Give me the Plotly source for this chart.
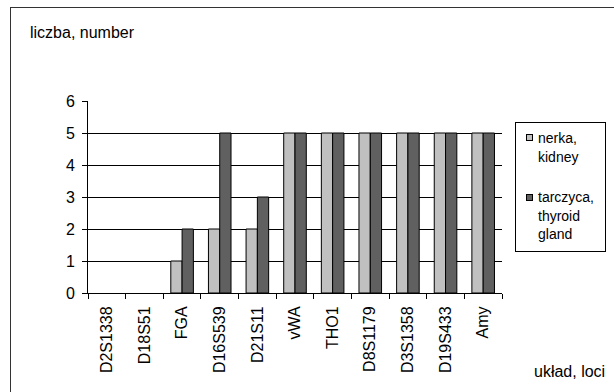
import plotly.graph_objects as go

loci = ["D2S1338", "D18S51", "FGA", "D16S539", "D21S11", "vWA",
        "THO1", "D8S1179", "D3S1358", "D19S433", "Amy"]
kidney = [0, 0, 1, 2, 2, 5, 5, 5, 5, 5, 5]
thyroid = [0, 0, 2, 5, 3, 5, 5, 5, 5, 5, 5]
series_names = ["nerka, kidney", "tarczyca, thyroid gland"]
legend_lines = [["nerka,", "kidney"], ["tarczyca,", "thyroid", "gland"]]
y_title = "liczba, number"
x_title = "układ, loci"
colors = ["#C0C0C0", "#606060"]

W, H = 614, 392
L, R, T, B = 88, 112, 101, 99
PW, PH = W - L - R, H - T - B

def px(x):
    return (x - L) / PW

def py(y):
    return (H - B - y) / PH

FONT = "Liberation Sans, Arial, sans-serif"

fig = go.Figure()
for name, vals, col in zip(series_names, [kidney, thyroid], colors):
    fig.add_trace(go.Bar(
        x=loci, y=vals, name=name,
        marker=dict(color=col,
                    line=dict(color="black", width=[1 if v else 0 for v in vals])),
        showlegend=False,
    ))

def box(x, y, w, h, bg, border):
    return dict(text=" ", x=px(x), y=py(y), xref="paper", yref="paper",
                xanchor="left", yanchor="top", showarrow=False,
                width=w, height=h, borderpad=0, borderwidth=1,
                bordercolor=border, bgcolor=bg, font=dict(size=1))

annotations = [
    # outer frame: only top and left edges fall inside the picture
    box(10, 7, 900, 700, "rgba(0,0,0,0)", "#333333"),
    # legend box
    box(515, 122, 89, 128, "white", "black"),
]
sq_y = [134, 194]
for col, yy in zip(colors, sq_y):
    annotations.append(box(526, yy, 5, 5, col, "black"))

annotations += [
    dict(text=y_title, x=px(28), y=py(33), xref="paper", yref="paper",
         xanchor="left", yanchor="middle", showarrow=False,
         font=dict(family=FONT, size=16, color="black")),
    dict(text=x_title, x=px(532), y=py(371), xref="paper", yref="paper",
         xanchor="left", yanchor="middle", showarrow=False,
         font=dict(family=FONT, size=16, color="black")),
]
line_y = [[138, 157], [197, 216, 234]]
for lines, ys in zip(legend_lines, line_y):
    for txt, yy in zip(lines, ys):
        annotations.append(dict(text=txt, x=px(536), y=py(yy), xref="paper", yref="paper",
                                xanchor="left", yanchor="middle", showarrow=False,
                                font=dict(family=FONT, size=14, color="black")))

fig.update_layout(
    width=W, height=H,
    margin=dict(l=L, r=R, t=T, b=B, pad=0),
    paper_bgcolor="white", plot_bgcolor="white",
    barmode="group", bargap=0.4, bargroupgap=0,
    font=dict(family=FONT, size=16, color="black"),
    annotations=annotations,
    xaxis=dict(type="category", showline=True, linecolor="black", linewidth=1,
               ticks="outside", tickson="boundaries", ticklen=5, tickcolor="black",
               tickangle=-90, showgrid=False, tickfont=dict(size=16),
               ticklabelstandoff=6),
    yaxis=dict(range=[0, 6], dtick=1, showline=True, linecolor="black", linewidth=1,
               ticks="outside", ticklen=5, tickcolor="black",
               showgrid=True, gridcolor="black", gridwidth=1, zeroline=False,
               tickfont=dict(size=16), ticklabelstandoff=4),
)

fig.write_html("out.html")
